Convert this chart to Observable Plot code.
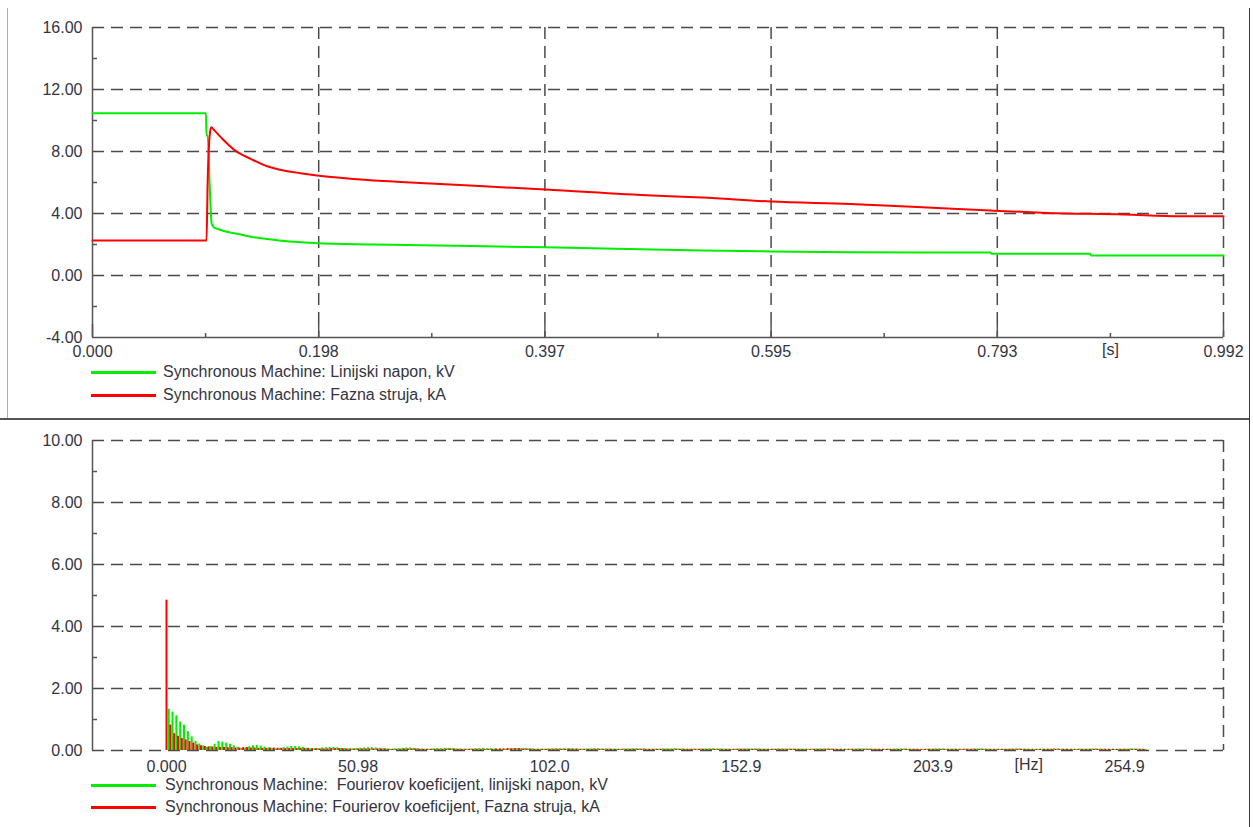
<!DOCTYPE html>
<html><head><meta charset="utf-8">
<script src="https://cdn.jsdelivr.net/npm/d3@7"></script>
<script src="https://cdn.jsdelivr.net/npm/@observablehq/plot@0.6"></script>
<style>
body{margin:0;background:#fff;font-family:"Liberation Sans",Arial,sans-serif;}
#root{position:relative;width:1253px;height:827px;overflow:hidden;background:#fff;}
#root svg{position:absolute;left:0;}
.leg{position:absolute;left:91px;height:20px;display:flex;align-items:center;font-size:16px;color:#34343f;white-space:pre;}
.leg .sw{width:65px;height:3px;margin-right:7px;}
.ln{position:absolute;}
</style></head><body><div id="root"></div><script>
// ---------- data: top panel (time domain) ----------
const topXTicks = [0, 0.1984, 0.3968, 0.5952, 0.7936, 0.992];
const topXLabels = ["0.000", "0.198", "0.397", "0.595", "0.793", "0.992"];
const topXMinor = [0.0992, 0.2976, 0.496, 0.6944, 0.8928];
const topYTicks = [-4, 0, 4, 8, 12, 16];
const topYGrid = [0, 4, 8, 12, 16];
const topYMinor = [-2, 2, 6, 10, 14];
const topUnit = "[s]";

const voltTime = [0, 0.0995, 0.1000, 0.1010, 0.1027, 0.1045, 0.1064, 0.1100, 0.1138, 0.1200, 0.1269, 0.1386, 0.1480, 0.1590, 0.1763, 0.1971, 0.2464, 0.3973, 0.5347, 0.5955, 0.6648, 0.7873, 0.7890, 0.8750, 0.8760, 0.992];
const voltKV   = [10.47, 10.47, 9.03, 9.03, 6.0, 3.35, 3.12, 3.00, 2.90, 2.79, 2.69, 2.50, 2.40, 2.30, 2.17, 2.08, 2.00, 1.82, 1.62, 1.55, 1.50, 1.48, 1.40, 1.40, 1.29, 1.29];
const currTime = [0, 0.1000, 0.1010, 0.1030, 0.1041, 0.1064, 0.1100, 0.1138, 0.1190, 0.1240, 0.1310, 0.1386, 0.1460, 0.1532, 0.1600, 0.1678, 0.1824, 0.1971, 0.2263, 0.2552, 0.2965, 0.3973, 0.4910, 0.5347, 0.5955, 0.6648, 0.7277, 0.7876, 0.8373, 0.9043, 0.9543, 0.992];
const currKA   = [2.26, 2.26, 6.0, 9.2, 9.57, 9.40, 9.12, 8.82, 8.45, 8.12, 7.80, 7.53, 7.27, 7.05, 6.90, 6.77, 6.60, 6.45, 6.24, 6.09, 5.93, 5.55, 5.16, 5.03, 4.77, 4.62, 4.41, 4.19, 4.04, 3.94, 3.83, 3.83];

const topSeries = ["Synchronous Machine: Linijski napon, kV", "Synchronous Machine: Fazna struja, kA"];

// ---------- data: bottom panel (spectrum) ----------
const botXTicks = [0, 50.98, 101.96, 152.94, 203.92, 254.9];
const botXLabels = ["0.000", "50.98", "102.0", "152.9", "203.9", "254.9"];
const botYTicks = [0, 2, 4, 6, 8, 10];
const botYMinor = [1, 3, 5, 7, 9];
const botUnit = "[Hz]";
const binStepHz = 50.98 / 50; // spacing of Fourier bins

const fourierVoltKV = [
1.33,1.24,1.12,0.92,0.82,0.61,0.44,0.29,0.21,0.15,
0.10,0.13,0.20,0.29,0.27,0.24,0.20,0.15,0.10,0.07,
0.09,0.12,0.15,0.16,0.14,0.11,0.08,0.06,0.05,0.07,
0.09,0.11,0.13,0.13,0.12,0.10,0.07,0.05,0.05,0.06,
0.08,0.09,0.10,0.10,0.09,0.07,0.06,0.05,0.05,0.06,
0.07,0.08,0.09,0.09,0.08,0.07,0.06,0.05,0.04,0.05,
0.06,0.07,0.08,0.08,0.07,0.06,0.05,0.04,0.04,0.05,
0.06,0.06,0.07,0.07,0.06,0.05,0.05,0.04,0.04,0.05,
0.06,0.06,0.07,0.06,0.06,0.05,0.04,0.04,0.04,0.05,
0.06,0.06,0.06,0.06,0.05,0.05,0.04,0.04,0.04,0.05,
0.05,0.06,0.06,0.06,0.05,0.05,0.04,0.04,0.04,0.05,
0.05,0.06,0.06,0.05,0.05,0.05,0.04,0.04,0.04,0.05,
0.05,0.06,0.06,0.05,0.05,0.04,0.04,0.04,0.04,0.05,
0.05,0.05,0.06,0.05,0.05,0.04,0.04,0.04,0.04,0.05,
0.05,0.05,0.06,0.05,0.05,0.04,0.04,0.03,0.04,0.05,
0.05,0.05,0.05,0.05,0.05,0.04,0.04,0.03,0.04,0.05,
0.05,0.05,0.05,0.05,0.04,0.04,0.04,0.03,0.04,0.05,
0.05,0.05,0.05,0.05,0.04,0.04,0.03,0.03,0.04,0.04,
0.05,0.05,0.05,0.05,0.04,0.04,0.03,0.03,0.04,0.04,
0.05,0.05,0.05,0.04,0.04,0.04,0.03,0.03,0.04,0.04,
0.05,0.05,0.05,0.04,0.04,0.04,0.03,0.03,0.04,0.04,
0.05,0.05,0.05,0.04,0.04,0.03,0.03,0.03,0.04,0.04,
0.05,0.05,0.05,0.04,0.04,0.03,0.03,0.03,0.04,0.04,
0.04,0.05,0.05,0.04,0.04,0.03,0.03,0.03,0.04,0.04,
0.04,0.05,0.05,0.04,0.04,0.03,0.03,0.03,0.04,0.04,
0.04,0.05,0.05,0.04,0.04,0.03];

const fourierCurrKA = [
4.85,0.82,0.54,0.46,0.39,0.34,0.29,0.24,0.18,0.15,
0.13,0.12,0.11,0.10,0.10,0.10,0.09,0.09,0.08,0.08,
0.09,0.09,0.08,0.08,0.07,0.07,0.07,0.08,0.08,0.07,
0.07,0.06,0.06,0.06,0.06,0.07,0.07,0.07,0.06,0.06,
0.05,0.05,0.05,0.06,0.06,0.06,0.06,0.05,0.05,0.05,
0.05,0.05,0.05,0.05,0.05,0.05,0.05,0.05,0.04,0.04,
0.04,0.04,0.05,0.05,0.05,0.05,0.04,0.04,0.04,0.04,
0.04,0.04,0.04,0.05,0.05,0.05,0.04,0.04,0.04,0.04,
0.04,0.04,0.04,0.04,0.04,0.04,0.05,0.05,0.05,0.06,
0.06,0.06,0.06,0.05,0.05,0.05,0.04,0.04,0.04,0.04,
0.04,0.04,0.04,0.04,0.04,0.05,0.05,0.05,0.04,0.04,
0.04,0.04,0.04,0.04,0.04,0.04,0.04,0.04,0.04,0.04,
0.04,0.04,0.04,0.04,0.04,0.04,0.04,0.04,0.04,0.04,
0.04,0.04,0.04,0.04,0.04,0.04,0.04,0.04,0.04,0.04,
0.04,0.04,0.04,0.04,0.04,0.04,0.04,0.04,0.04,0.04,
0.04,0.04,0.04,0.04,0.04,0.04,0.04,0.04,0.04,0.04,
0.04,0.04,0.04,0.04,0.04,0.04,0.04,0.04,0.04,0.04,
0.04,0.04,0.04,0.04,0.04,0.04,0.04,0.04,0.04,0.04,
0.04,0.04,0.04,0.04,0.04,0.04,0.04,0.04,0.04,0.04,
0.04,0.04,0.04,0.04,0.04,0.04,0.04,0.04,0.04,0.04,
0.04,0.04,0.04,0.04,0.04,0.04,0.04,0.04,0.04,0.04,
0.04,0.04,0.04,0.04,0.04,0.04,0.04,0.04,0.04,0.04,
0.04,0.04,0.04,0.04,0.04,0.04,0.04,0.04,0.04,0.04,
0.04,0.04,0.04,0.04,0.04,0.04,0.04,0.04,0.04,0.04,
0.04,0.04,0.04,0.04,0.04,0.04,0.04,0.04,0.04,0.04,
0.04,0.04,0.04,0.04,0.04,0.04];

const botSeries = ["Synchronous Machine:  Fourierov koeficijent, linijski napon, kV", "Synchronous Machine: Fourierov koeficijent, Fazna struja, kA"];

// ---------- styles ----------
const GREEN = "#00ee00", RED = "#ff0000";
const FONT = '"Liberation Sans", Arial, sans-serif';
const TEXTC = "#34343f";
const GRID = {stroke: "#4a4a4a", strokeWidth: 1.5, strokeOpacity: 1, strokeDasharray: "12,7"};
const AXIS = {stroke: "#555", strokeWidth: 1.5};
const styleObj = {fontFamily: FONT, fontSize: "16px", color: TEXTC, background: "transparent", overflow: "visible"};

const root = document.getElementById("root");

// ---------- top panel ----------
const voltData = voltTime.map((t, i) => ({t, v: voltKV[i]}));
const currData = currTime.map((t, i) => ({t, v: currKA[i]}));
const topFrameW = 1253 - 92 - 30, topFrameH = 360 - 27 - 23;

const topPlot = Plot.plot({
  width: 1253, height: 360, marginTop: 27, marginBottom: 23, marginLeft: 92, marginRight: 30,
  style: styleObj,
  x: {domain: [0, 0.992], axis: null},
  y: {domain: [-4, 16], axis: null},
  marks: [
    Plot.gridY(topYGrid, GRID),
    Plot.gridX(topXTicks.slice(1), GRID),
    Plot.ruleY([-4], AXIS),
    Plot.ruleX([0], AXIS),
    Plot.ruleX(topXTicks, {...AXIS, insetTop: topFrameH - 13}),
    Plot.ruleX(topXMinor, {...AXIS, insetTop: topFrameH - 4}),
    Plot.ruleY(topYMinor, {...AXIS, insetRight: topFrameW - 5}),
    Plot.line(voltData, {x: "t", y: "v", stroke: GREEN, strokeWidth: 2, curve: "monotone-x"}),
    Plot.line(currData, {x: "t", y: "v", stroke: RED, strokeWidth: 2, curve: "monotone-x"}),
    Plot.axisX({ticks: topXTicks, tickFormat: d => topXLabels[topXTicks.indexOf(d)], tickSize: 0, tickPadding: 8, label: null, fill: TEXTC}),
    Plot.axisY({ticks: topYTicks, tickFormat: d => d.toFixed(2), tickSize: 0, tickPadding: 10, label: null, fill: TEXTC}),
    Plot.text([topUnit], {x: (topXTicks[4] + topXTicks[5]) / 2, frameAnchor: "bottom", dy: 17, text: d => d, fill: TEXTC})
  ]
});
topPlot.style.top = "0px";
root.appendChild(topPlot);

// ---------- bottom panel ----------
const bins = fourierVoltKV.map((g, k) => ({f: k * binStepHz, g, r: fourierCurrKA[k]}));
const botDomain = [-19.69, 281.24];
const botFrameW = 1253 - 92 - 30, botFrameH = 360 - 20 - 30;

const botPlot = Plot.plot({
  width: 1253, height: 360, marginTop: 20, marginBottom: 30, marginLeft: 92, marginRight: 30,
  style: styleObj,
  x: {domain: botDomain, axis: null},
  y: {domain: [0, 10], axis: null},
  marks: [
    Plot.gridY(botYTicks, GRID),
    Plot.ruleX([botDomain[1]], GRID),
    Plot.ruleX([botDomain[0]], AXIS),
    Plot.ruleY(botYMinor, {...AXIS, insetRight: botFrameW - 5}),
    Plot.ruleX(bins, {x: "f", y1: 0, y2: "g", stroke: GREEN, strokeWidth: 2, dx: 2.2}),
    Plot.ruleX(bins, {x: "f", y1: 0, y2: "r", stroke: RED, strokeWidth: 2}),
    Plot.axisX({ticks: botXTicks, tickFormat: d => botXLabels[botXTicks.indexOf(d)], tickSize: 0, tickPadding: 10, label: null, fill: TEXTC}),
    Plot.axisY({ticks: botYTicks, tickFormat: d => d.toFixed(2), tickSize: 0, tickPadding: 10, label: null, fill: TEXTC}),
    Plot.text([botUnit], {x: (botXTicks[4] + botXTicks[5]) / 2, frameAnchor: "bottom", dy: 19, text: d => d, fill: TEXTC})
  ]
});
botPlot.style.top = "420px";
root.appendChild(botPlot);

// ---------- legends ----------
function legend(label, color, y, textLeft) {
  const d = document.createElement("div");
  d.className = "leg";
  d.style.top = (y - 10) + "px";
  const sw = document.createElement("div");
  sw.className = "sw";
  sw.style.background = color;
  sw.style.marginRight = (textLeft - 91 - 65) + "px";
  const s = document.createElement("span");
  s.textContent = label;
  d.appendChild(sw); d.appendChild(s);
  root.appendChild(d);
}
legend(topSeries[0], GREEN, 372, 163);
legend(topSeries[1], RED, 395, 163);
legend(botSeries[0], GREEN, 785, 165);
legend(botSeries[1], RED, 807, 165);

// ---------- panel borders ----------
function line(l, t, w, h, c) {
  const d = document.createElement("div");
  d.className = "ln";
  Object.assign(d.style, {left: l + "px", top: t + "px", width: w + "px", height: h + "px", background: c});
  root.appendChild(d);
}
line(0, 418, 1250, 2, "#555");
line(1249, 8, 1, 819, "#333");
line(7, 8, 1, 410, "#b0b0b0");
</script></body></html>
